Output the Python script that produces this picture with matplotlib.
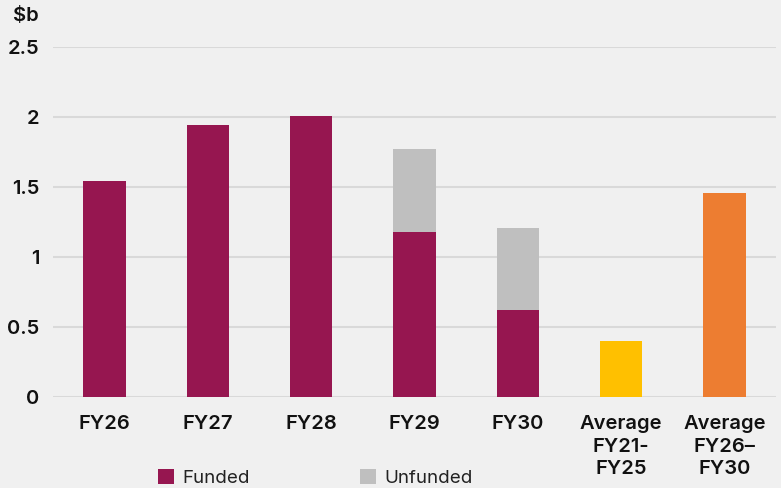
import matplotlib
matplotlib.use("Agg")
import matplotlib.pyplot as plt
from matplotlib.patches import Patch

# Capital spending, $b
years = ["FY26", "FY27", "FY28", "FY29", "FY30"]
funded = [1.54, 1.94, 2.01, 1.18, 0.62]
unfunded = [0.0, 0.0, 0.0, 0.59, 0.59]
avg_labels = ["Average\nFY21-\nFY25", "Average\nFY26–\nFY30"]
avg_values = [0.40, 1.46]
y_ticks = [0, 0.5, 1, 1.5, 2, 2.5]
y_tick_labels = ["0", "0.5", "1", "1.5", "2", "2.5"]

FUNDED_C = "#961650"
UNFUNDED_C = "#BFBFBF"
AVG_COLORS = ["#FFC000", "#ED7D31"]
BG = "#F0F0F0"
GRID = "#D9D9D9"
TXT = "#111111"

plt.rcParams["font.family"] = ["Inter", "DejaVu Sans"]

W, H = 781, 488
fig = plt.figure(figsize=(W / 100, H / 100), dpi=100, facecolor=BG)
ax = fig.add_axes([53 / W, 91 / H, (776 - 53) / W, (441 - 91) / H], facecolor=BG)

labels = years + avg_labels
x = list(range(len(labels)))
bw = 0.41

ax.bar(x[:5], funded, width=bw, color=FUNDED_C, zorder=3)
ax.bar(x[:5], unfunded, width=bw, bottom=funded, color=UNFUNDED_C, zorder=3)
ax.bar(x[5:], avg_values, width=bw, color=AVG_COLORS, zorder=3)

ax.set_xlim(-0.5, len(labels) - 0.5)
ax.set_ylim(0, 2.5)
ax.set_yticks(y_ticks)
ax.set_yticklabels(y_tick_labels)
ax.set_xticks(x)
ax.set_xticklabels(labels, linespacing=1.32)
ax.yaxis.grid(True, color=GRID, linewidth=1.5, zorder=0)
ax.set_axisbelow(True)
for s in ax.spines.values():
    s.set_visible(False)
ax.tick_params(axis="both", length=0, labelsize=14.5, colors=TXT)
ax.tick_params(axis="y", pad=10)
ax.tick_params(axis="x", pad=13)
for t in ax.get_xticklabels() + ax.get_yticklabels():
    t.set_fontweight("semibold")

fig.text(39 / W, 1 - 7 / H, r"\$b", ha="right", va="top", fontsize=14.5,
         fontweight="semibold", color=TXT)

handles = [Patch(facecolor=FUNDED_C, label="Funded"),
           Patch(facecolor=UNFUNDED_C, label="Unfunded")]
fig.legend(handles=handles, loc="center left", bbox_to_anchor=(158 / W, 10 / H),
           ncol=2, frameon=False, fontsize=13.5, handlelength=0.85,
           handleheight=0.85, handletextpad=0.45, columnspacing=5.85,
           borderpad=0, borderaxespad=0, labelcolor="#222222")

fig.savefig("out.png", dpi=100, facecolor=BG)
